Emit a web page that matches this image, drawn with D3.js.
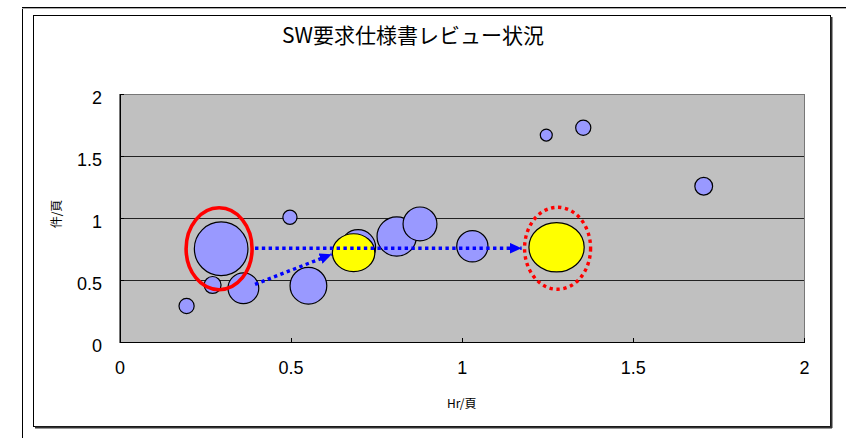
<!DOCTYPE html>
<html><head><meta charset="utf-8">
<script src="https://cdn.jsdelivr.net/npm/d3@7"></script>
<style>
  body { margin: 0; background: #fff; }
  svg { display: block; }
</style>
</head>
<body>
<svg id="chart" width="846" height="438"></svg>
<script>
// ---- chart text ----
const titleText = "SW要求仕様書レビュー状況";
const xTitle = "Hr/頁";
const yTitle = "件/頁";
const xTicks = [0, 0.5, 1, 1.5, 2];
const yTicks = [0, 0.5, 1, 1.5, 2];

// ---- review results: effort (Hr/頁), findings (件/頁), document size (頁) ----
const reviewHr    = [0.196, 0.272, 0.297, 0.362, 0.498, 0.552, 0.697, 0.810, 0.878, 1.031, 1.247, 1.355, 1.707];
const reviewFind  = [0.290, 0.460, 0.752, 0.433, 1.006, 0.454, 0.764, 0.851, 0.952, 0.772, 1.669, 1.728, 1.256];
const reviewPages = [8, 10, 100, 33, 7, 47, 43, 54, 40, 34, 5, 8, 11];

// ---- highlighted reviews (yellow) ----
const focusHr    = [0.684, 1.277];
const focusFind  = [0.720, 0.764];
const focusPages = [56, 95];

// ---- improvement arrows, data units ----
const arrowFromX = [0.396, 0.396];
const arrowFromY = [0.756, 0.465];
const arrowToX   = [1.175, 0.620];
const arrowToY   = [0.756, 0.707];

// ---- red rings: before (solid) / goal (dotted), data units ----
const ringX = [0.291, 1.280];
const ringY = [0.752, 0.756];
const ringDotted = [false, true];

// ---- layout ----
const svg = d3.select("#chart");
const plot = { left: 119.5, right: 804, top: 94, bottom: 342 };
const x = d3.scaleLinear().domain([0, 2]).range([plot.left, plot.right]);
const y = d3.scaleLinear().domain([0, 2]).range([plot.bottom, plot.top]);
const r = d3.scaleSqrt().domain([0, 100]).range([0, 26.8]);
const numFont = "'Liberation Sans', Arial, sans-serif";
const cjkFont = "'Noto Sans CJK JP', sans-serif";

// outer sheet lines
svg.append("line").attr("x1", 22.5).attr("x2", 22.5).attr("y1", 7).attr("y2", 438)
  .attr("stroke", "#000").attr("stroke-width", 1);
svg.append("line").attr("x1", 22).attr("x2", 846).attr("y1", 7.5).attr("y2", 7.5)
  .attr("stroke", "#000").attr("stroke-width", 1);
svg.append("line").attr("x1", 22).attr("x2", 846).attr("y1", 8.5).attr("y2", 8.5)
  .attr("stroke", "#aaa").attr("stroke-width", 1);

// chart area frame with shadow
svg.append("rect").attr("x", 33.5).attr("y", 15.5).attr("width", 797).attr("height", 411)
  .attr("fill", "#fff").attr("stroke", "#000").attr("stroke-width", 1);
svg.append("line").attr("x1", 831.5).attr("x2", 831.5).attr("y1", 17).attr("y2", 428)
  .attr("stroke", "#333").attr("stroke-width", 2);
svg.append("line").attr("x1", 35).attr("x2", 832).attr("y1", 427.5).attr("y2", 427.5)
  .attr("stroke", "#333").attr("stroke-width", 2);

// title
svg.append("text").attr("x", 413).attr("y", 43).attr("text-anchor", "middle")
  .attr("font-family", cjkFont).attr("font-size", 21).attr("fill", "#000")
  .text(titleText);

// plot area
svg.append("rect").attr("x", plot.left).attr("y", plot.top)
  .attr("width", plot.right - plot.left).attr("height", plot.bottom - plot.top)
  .attr("fill", "#c0c0c0").attr("stroke", "#777").attr("stroke-width", 1)
  .attr("shape-rendering", "crispEdges");

// horizontal gridlines
svg.append("g").selectAll("line")
  .data(yTicks.filter(v => v > 0 && v < 2))
  .join("line")
  .attr("x1", plot.left).attr("x2", plot.right)
  .attr("y1", d => y(d)).attr("y2", d => y(d))
  .attr("stroke", "#222").attr("stroke-width", 1)
  .attr("shape-rendering", "crispEdges");

// axes
const xAxis = svg.append("g").attr("transform", `translate(0,${plot.bottom})`)
  .call(d3.axisBottom(x).tickValues(xTicks).tickFormat(d3.format("")).tickSize(-4).tickSizeOuter(0).tickPadding(19));
const yAxis = svg.append("g").attr("transform", `translate(${plot.left},0)`)
  .call(d3.axisLeft(y).tickValues(yTicks).tickFormat(d3.format("")).tickSize(-4).tickSizeOuter(0).tickPadding(17.5));
[xAxis, yAxis].forEach(g => {
  g.selectAll(".domain").attr("stroke", "#000").attr("shape-rendering", "crispEdges");
  g.selectAll(".tick line").attr("stroke", "#000").attr("shape-rendering", "crispEdges");
  g.selectAll("text").attr("font-family", numFont).attr("font-size", 18).attr("fill", "#000");
});
yAxis.selectAll("text").attr("dy", "0.52em");

// axis titles
svg.append("text").attr("x", (plot.left + plot.right) / 2).attr("y", 408)
  .attr("text-anchor", "middle").attr("font-family", cjkFont).attr("font-size", 12)
  .attr("fill", "#000").text(xTitle);
svg.append("text").attr("transform", "translate(61,214) rotate(-90)")
  .attr("text-anchor", "middle").attr("font-family", cjkFont).attr("font-size", 12)
  .attr("fill", "#000").text(yTitle);

// review bubbles
const reviews = reviewHr.map((h, i) => ({ h, f: reviewFind[i], p: reviewPages[i] }));
svg.append("g").selectAll("circle")
  .data(reviews)
  .join("circle")
  .attr("cx", d => x(d.h)).attr("cy", d => y(d.f)).attr("r", d => r(d.p))
  .attr("fill", "#9999ff").attr("stroke", "#000").attr("stroke-width", 1.2);

// highlighted reviews (slightly wide ellipses)
const aspect = Math.sqrt(1.12);
const focus = focusHr.map((h, i) => ({ h, f: focusFind[i], p: focusPages[i] }));
svg.append("g").selectAll("ellipse")
  .data(focus)
  .join("ellipse")
  .attr("cx", d => x(d.h)).attr("cy", d => y(d.f))
  .attr("rx", d => r(d.p) * aspect).attr("ry", d => r(d.p) / aspect)
  .attr("fill", "#ffff00").attr("stroke", "#000").attr("stroke-width", 1.2);

// arrowhead
svg.append("defs").append("marker")
  .attr("id", "arrowHead").attr("markerUnits", "userSpaceOnUse")
  .attr("viewBox", "0 0 12 11").attr("refX", 12).attr("refY", 5.5)
  .attr("markerWidth", 12).attr("markerHeight", 11).attr("orient", "auto")
  .append("path").attr("d", "M0,0 L12,5.5 L0,11 Z").attr("fill", "#0000ff");

// improvement arrows
const arrows = arrowFromX.map((fx, i) => ({ x1: fx, y1: arrowFromY[i], x2: arrowToX[i], y2: arrowToY[i] }));
svg.append("g").selectAll("line")
  .data(arrows)
  .join("line")
  .attr("x1", d => x(d.x1)).attr("y1", d => y(d.y1))
  .attr("x2", d => x(d.x2)).attr("y2", d => y(d.y2))
  .attr("stroke", "#0000ff").attr("stroke-width", 3.4)
  .attr("stroke-dasharray", "3.4 3.4")
  .attr("marker-end", "url(#arrowHead)");

// red rings
const rings = ringX.map((cx, i) => ({ cx, cy: ringY[i], dotted: ringDotted[i] }));
svg.append("g").selectAll("ellipse")
  .data(rings)
  .join("ellipse")
  .attr("cx", d => x(d.cx)).attr("cy", d => y(d.cy))
  .attr("rx", 33).attr("ry", 41)
  .attr("fill", "none").attr("stroke", "#ff0000")
  .attr("stroke-width", d => d.dotted ? 3.4 : 3.6)
  .attr("stroke-dasharray", d => d.dotted ? "3.4 3.6" : null);
</script>
</body>
</html>
